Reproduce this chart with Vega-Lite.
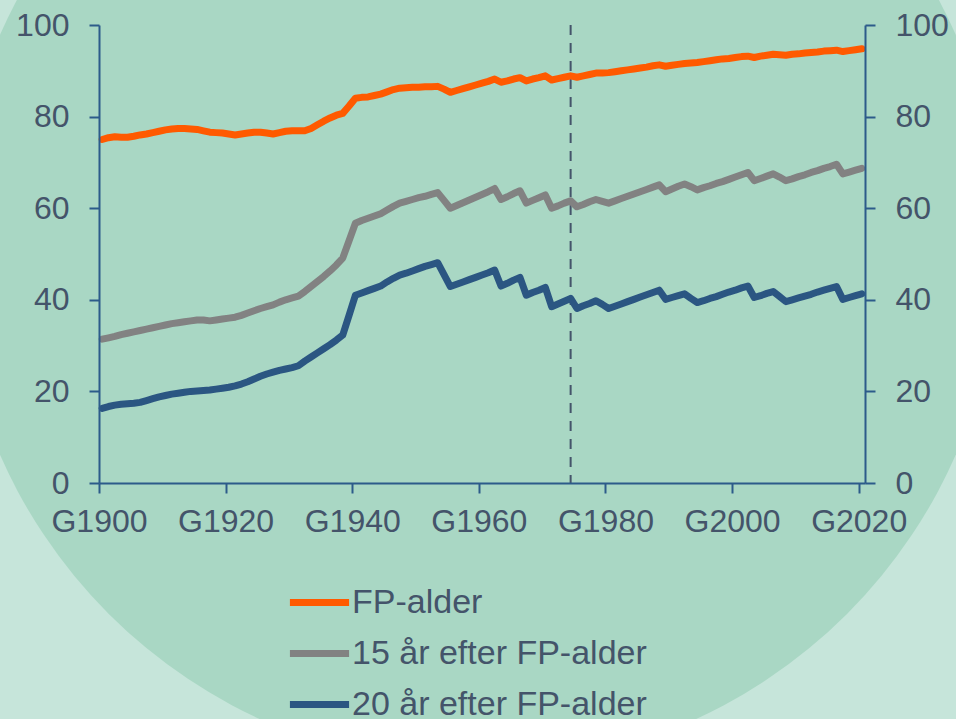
{
  "$schema": "https://vega.github.io/schema/vega-lite/v6.json",
  "autosize": {"type": "none"},
  "padding": {"left": 99, "top": 25, "right": 91, "bottom": 236},
  "width": 766,
  "height": 458,
  "background": "#c6e5da",
  "config": {
    "view": {"stroke": null},
    "axis": {
      "domainColor": "#2c5b8a", "domainWidth": 2, "tickColor": "#2c5b8a", "tickWidth": 2, "tickSize": 10,
      "labelFont": "Liberation Sans", "labelFontSize": 32, "labelColor": "#44546a", "grid": false, "title": null, "zindex": 1
    }
  },
  "datasets": {
    "circle": [{"year": 1959.35, "value": 52}],
    "cutoff": [{"year": 1974}],
    "series": [
      {"year":1900,"series":"FP-alder","value":75.0},{"year":1901,"series":"FP-alder","value":75.4},{"year":1902,"series":"FP-alder","value":75.6},{"year":1903,"series":"FP-alder","value":75.5},{"year":1904,"series":"FP-alder","value":75.5},{"year":1905,"series":"FP-alder","value":75.7},{"year":1906,"series":"FP-alder","value":76.0},{"year":1907,"series":"FP-alder","value":76.2},{"year":1908,"series":"FP-alder","value":76.5},{"year":1909,"series":"FP-alder","value":76.8},
      {"year":1910,"series":"FP-alder","value":77.1},{"year":1911,"series":"FP-alder","value":77.3},{"year":1912,"series":"FP-alder","value":77.4},{"year":1913,"series":"FP-alder","value":77.4},{"year":1914,"series":"FP-alder","value":77.3},{"year":1915,"series":"FP-alder","value":77.2},{"year":1916,"series":"FP-alder","value":76.9},{"year":1917,"series":"FP-alder","value":76.6},{"year":1918,"series":"FP-alder","value":76.5},{"year":1919,"series":"FP-alder","value":76.4},
      {"year":1920,"series":"FP-alder","value":76.2},{"year":1921,"series":"FP-alder","value":76.0},{"year":1922,"series":"FP-alder","value":76.2},{"year":1923,"series":"FP-alder","value":76.4},{"year":1924,"series":"FP-alder","value":76.6},{"year":1925,"series":"FP-alder","value":76.6},{"year":1926,"series":"FP-alder","value":76.4},{"year":1927,"series":"FP-alder","value":76.2},{"year":1928,"series":"FP-alder","value":76.5},{"year":1929,"series":"FP-alder","value":76.8},
      {"year":1930,"series":"FP-alder","value":76.9},{"year":1931,"series":"FP-alder","value":76.9},{"year":1932,"series":"FP-alder","value":76.9},{"year":1933,"series":"FP-alder","value":77.4},{"year":1934,"series":"FP-alder","value":78.2},{"year":1935,"series":"FP-alder","value":79.0},{"year":1936,"series":"FP-alder","value":79.7},{"year":1937,"series":"FP-alder","value":80.3},{"year":1938,"series":"FP-alder","value":80.7},{"year":1939,"series":"FP-alder","value":82.3},
      {"year":1940,"series":"FP-alder","value":84.0},{"year":1941,"series":"FP-alder","value":84.2},{"year":1942,"series":"FP-alder","value":84.3},{"year":1943,"series":"FP-alder","value":84.6},{"year":1944,"series":"FP-alder","value":84.9},{"year":1945,"series":"FP-alder","value":85.4},{"year":1946,"series":"FP-alder","value":85.9},{"year":1947,"series":"FP-alder","value":86.2},{"year":1948,"series":"FP-alder","value":86.3},{"year":1949,"series":"FP-alder","value":86.4},
      {"year":1950,"series":"FP-alder","value":86.4},{"year":1951,"series":"FP-alder","value":86.5},{"year":1952,"series":"FP-alder","value":86.5},{"year":1953,"series":"FP-alder","value":86.6},{"year":1954,"series":"FP-alder","value":86.0},{"year":1955,"series":"FP-alder","value":85.3},{"year":1956,"series":"FP-alder","value":85.7},{"year":1957,"series":"FP-alder","value":86.1},{"year":1958,"series":"FP-alder","value":86.5},{"year":1959,"series":"FP-alder","value":86.9},
      {"year":1960,"series":"FP-alder","value":87.3},{"year":1961,"series":"FP-alder","value":87.7},{"year":1962,"series":"FP-alder","value":88.2},{"year":1963,"series":"FP-alder","value":87.5},{"year":1964,"series":"FP-alder","value":87.8},{"year":1965,"series":"FP-alder","value":88.2},{"year":1966,"series":"FP-alder","value":88.5},{"year":1967,"series":"FP-alder","value":87.8},{"year":1968,"series":"FP-alder","value":88.2},{"year":1969,"series":"FP-alder","value":88.5},
      {"year":1970,"series":"FP-alder","value":88.9},{"year":1971,"series":"FP-alder","value":88.0},{"year":1972,"series":"FP-alder","value":88.3},{"year":1973,"series":"FP-alder","value":88.6},{"year":1974,"series":"FP-alder","value":88.9},{"year":1975,"series":"FP-alder","value":88.6},{"year":1976,"series":"FP-alder","value":88.9},{"year":1977,"series":"FP-alder","value":89.2},{"year":1978,"series":"FP-alder","value":89.5},{"year":1979,"series":"FP-alder","value":89.5},
      {"year":1980,"series":"FP-alder","value":89.6},{"year":1981,"series":"FP-alder","value":89.8},{"year":1982,"series":"FP-alder","value":90.0},{"year":1983,"series":"FP-alder","value":90.2},{"year":1984,"series":"FP-alder","value":90.4},{"year":1985,"series":"FP-alder","value":90.6},{"year":1986,"series":"FP-alder","value":90.8},{"year":1987,"series":"FP-alder","value":91.1},{"year":1988,"series":"FP-alder","value":91.3},{"year":1989,"series":"FP-alder","value":91.0},
      {"year":1990,"series":"FP-alder","value":91.2},{"year":1991,"series":"FP-alder","value":91.4},{"year":1992,"series":"FP-alder","value":91.6},{"year":1993,"series":"FP-alder","value":91.7},{"year":1994,"series":"FP-alder","value":91.8},{"year":1995,"series":"FP-alder","value":92.0},{"year":1996,"series":"FP-alder","value":92.2},{"year":1997,"series":"FP-alder","value":92.4},{"year":1998,"series":"FP-alder","value":92.6},{"year":1999,"series":"FP-alder","value":92.7},
      {"year":2000,"series":"FP-alder","value":92.9},{"year":2001,"series":"FP-alder","value":93.1},{"year":2002,"series":"FP-alder","value":93.2},{"year":2003,"series":"FP-alder","value":92.9},{"year":2004,"series":"FP-alder","value":93.2},{"year":2005,"series":"FP-alder","value":93.4},{"year":2006,"series":"FP-alder","value":93.6},{"year":2007,"series":"FP-alder","value":93.5},{"year":2008,"series":"FP-alder","value":93.4},{"year":2009,"series":"FP-alder","value":93.6},
      {"year":2010,"series":"FP-alder","value":93.7},{"year":2011,"series":"FP-alder","value":93.9},{"year":2012,"series":"FP-alder","value":94.0},{"year":2013,"series":"FP-alder","value":94.1},{"year":2014,"series":"FP-alder","value":94.3},{"year":2015,"series":"FP-alder","value":94.4},{"year":2016,"series":"FP-alder","value":94.5},{"year":2017,"series":"FP-alder","value":94.2},{"year":2018,"series":"FP-alder","value":94.4},{"year":2019,"series":"FP-alder","value":94.6},
      {"year":2020,"series":"FP-alder","value":94.8},

      {"year":1900,"series":"15 år efter FP-alder","value":31.4},{"year":1901,"series":"15 år efter FP-alder","value":31.7},{"year":1902,"series":"15 år efter FP-alder","value":32.0},{"year":1903,"series":"15 år efter FP-alder","value":32.4},{"year":1904,"series":"15 år efter FP-alder","value":32.7},{"year":1905,"series":"15 år efter FP-alder","value":33.0},{"year":1906,"series":"15 år efter FP-alder","value":33.3},{"year":1907,"series":"15 år efter FP-alder","value":33.6},{"year":1908,"series":"15 år efter FP-alder","value":33.9},{"year":1909,"series":"15 år efter FP-alder","value":34.2},
      {"year":1910,"series":"15 år efter FP-alder","value":34.5},{"year":1911,"series":"15 år efter FP-alder","value":34.8},{"year":1912,"series":"15 år efter FP-alder","value":35.0},{"year":1913,"series":"15 år efter FP-alder","value":35.2},{"year":1914,"series":"15 år efter FP-alder","value":35.4},{"year":1915,"series":"15 år efter FP-alder","value":35.6},{"year":1916,"series":"15 år efter FP-alder","value":35.6},{"year":1917,"series":"15 år efter FP-alder","value":35.4},{"year":1918,"series":"15 år efter FP-alder","value":35.6},{"year":1919,"series":"15 år efter FP-alder","value":35.8},
      {"year":1920,"series":"15 år efter FP-alder","value":36.0},{"year":1921,"series":"15 år efter FP-alder","value":36.2},{"year":1922,"series":"15 år efter FP-alder","value":36.6},{"year":1923,"series":"15 år efter FP-alder","value":37.1},{"year":1924,"series":"15 år efter FP-alder","value":37.6},{"year":1925,"series":"15 år efter FP-alder","value":38.1},{"year":1926,"series":"15 år efter FP-alder","value":38.5},{"year":1927,"series":"15 år efter FP-alder","value":38.9},{"year":1928,"series":"15 år efter FP-alder","value":39.5},{"year":1929,"series":"15 år efter FP-alder","value":40.0},
      {"year":1930,"series":"15 år efter FP-alder","value":40.4},{"year":1931,"series":"15 år efter FP-alder","value":40.8},{"year":1932,"series":"15 år efter FP-alder","value":41.8},{"year":1933,"series":"15 år efter FP-alder","value":42.9},{"year":1934,"series":"15 år efter FP-alder","value":44.0},{"year":1935,"series":"15 år efter FP-alder","value":45.1},{"year":1936,"series":"15 år efter FP-alder","value":46.3},{"year":1937,"series":"15 år efter FP-alder","value":47.6},{"year":1938,"series":"15 år efter FP-alder","value":49.1},{"year":1939,"series":"15 år efter FP-alder","value":52.9},
      {"year":1940,"series":"15 år efter FP-alder","value":56.7},{"year":1941,"series":"15 år efter FP-alder","value":57.3},{"year":1942,"series":"15 år efter FP-alder","value":57.8},{"year":1943,"series":"15 år efter FP-alder","value":58.3},{"year":1944,"series":"15 år efter FP-alder","value":58.8},{"year":1945,"series":"15 år efter FP-alder","value":59.6},{"year":1946,"series":"15 år efter FP-alder","value":60.4},{"year":1947,"series":"15 år efter FP-alder","value":61.1},{"year":1948,"series":"15 år efter FP-alder","value":61.5},{"year":1949,"series":"15 år efter FP-alder","value":61.9},
      {"year":1950,"series":"15 år efter FP-alder","value":62.3},{"year":1951,"series":"15 år efter FP-alder","value":62.6},{"year":1952,"series":"15 år efter FP-alder","value":63.0},{"year":1953,"series":"15 år efter FP-alder","value":63.4},{"year":1954,"series":"15 år efter FP-alder","value":61.7},{"year":1955,"series":"15 år efter FP-alder","value":60.0},{"year":1956,"series":"15 år efter FP-alder","value":60.6},{"year":1957,"series":"15 år efter FP-alder","value":61.2},{"year":1958,"series":"15 år efter FP-alder","value":61.8},{"year":1959,"series":"15 år efter FP-alder","value":62.4},
      {"year":1960,"series":"15 år efter FP-alder","value":63.0},{"year":1961,"series":"15 år efter FP-alder","value":63.6},{"year":1962,"series":"15 år efter FP-alder","value":64.3},{"year":1963,"series":"15 år efter FP-alder","value":61.9},{"year":1964,"series":"15 år efter FP-alder","value":62.5},{"year":1965,"series":"15 år efter FP-alder","value":63.2},{"year":1966,"series":"15 år efter FP-alder","value":63.8},{"year":1967,"series":"15 år efter FP-alder","value":61.1},{"year":1968,"series":"15 år efter FP-alder","value":61.7},{"year":1969,"series":"15 år efter FP-alder","value":62.3},
      {"year":1970,"series":"15 år efter FP-alder","value":62.9},{"year":1971,"series":"15 år efter FP-alder","value":60.0},{"year":1972,"series":"15 år efter FP-alder","value":60.5},{"year":1973,"series":"15 år efter FP-alder","value":61.1},{"year":1974,"series":"15 år efter FP-alder","value":61.6},{"year":1975,"series":"15 år efter FP-alder","value":60.3},{"year":1976,"series":"15 år efter FP-alder","value":60.8},{"year":1977,"series":"15 år efter FP-alder","value":61.4},{"year":1978,"series":"15 år efter FP-alder","value":61.9},{"year":1979,"series":"15 år efter FP-alder","value":61.5},
      {"year":1980,"series":"15 år efter FP-alder","value":61.1},{"year":1981,"series":"15 år efter FP-alder","value":61.6},{"year":1982,"series":"15 år efter FP-alder","value":62.1},{"year":1983,"series":"15 år efter FP-alder","value":62.6},{"year":1984,"series":"15 år efter FP-alder","value":63.1},{"year":1985,"series":"15 år efter FP-alder","value":63.6},{"year":1986,"series":"15 år efter FP-alder","value":64.1},{"year":1987,"series":"15 år efter FP-alder","value":64.6},{"year":1988,"series":"15 år efter FP-alder","value":65.1},{"year":1989,"series":"15 år efter FP-alder","value":63.6},
      {"year":1990,"series":"15 år efter FP-alder","value":64.2},{"year":1991,"series":"15 år efter FP-alder","value":64.8},{"year":1992,"series":"15 år efter FP-alder","value":65.3},{"year":1993,"series":"15 år efter FP-alder","value":64.7},{"year":1994,"series":"15 år efter FP-alder","value":64.0},{"year":1995,"series":"15 år efter FP-alder","value":64.5},{"year":1996,"series":"15 år efter FP-alder","value":64.9},{"year":1997,"series":"15 år efter FP-alder","value":65.4},{"year":1998,"series":"15 år efter FP-alder","value":65.8},{"year":1999,"series":"15 år efter FP-alder","value":66.3},
      {"year":2000,"series":"15 år efter FP-alder","value":66.8},{"year":2001,"series":"15 år efter FP-alder","value":67.3},{"year":2002,"series":"15 år efter FP-alder","value":67.8},{"year":2003,"series":"15 år efter FP-alder","value":66.0},{"year":2004,"series":"15 år efter FP-alder","value":66.5},{"year":2005,"series":"15 år efter FP-alder","value":67.0},{"year":2006,"series":"15 år efter FP-alder","value":67.5},{"year":2007,"series":"15 år efter FP-alder","value":66.8},{"year":2008,"series":"15 år efter FP-alder","value":66.0},{"year":2009,"series":"15 år efter FP-alder","value":66.4},
      {"year":2010,"series":"15 år efter FP-alder","value":66.9},{"year":2011,"series":"15 år efter FP-alder","value":67.3},{"year":2012,"series":"15 år efter FP-alder","value":67.8},{"year":2013,"series":"15 år efter FP-alder","value":68.2},{"year":2014,"series":"15 år efter FP-alder","value":68.7},{"year":2015,"series":"15 år efter FP-alder","value":69.1},{"year":2016,"series":"15 år efter FP-alder","value":69.6},{"year":2017,"series":"15 år efter FP-alder","value":67.5},{"year":2018,"series":"15 år efter FP-alder","value":67.9},{"year":2019,"series":"15 år efter FP-alder","value":68.3},
      {"year":2020,"series":"15 år efter FP-alder","value":68.7},

      {"year":1900,"series":"20 år efter FP-alder","value":16.3},{"year":1901,"series":"20 år efter FP-alder","value":16.7},{"year":1902,"series":"20 år efter FP-alder","value":17.0},{"year":1903,"series":"20 år efter FP-alder","value":17.2},{"year":1904,"series":"20 år efter FP-alder","value":17.3},{"year":1905,"series":"20 år efter FP-alder","value":17.4},{"year":1906,"series":"20 år efter FP-alder","value":17.6},{"year":1907,"series":"20 år efter FP-alder","value":18.0},{"year":1908,"series":"20 år efter FP-alder","value":18.4},{"year":1909,"series":"20 år efter FP-alder","value":18.8},
      {"year":1910,"series":"20 år efter FP-alder","value":19.1},{"year":1911,"series":"20 år efter FP-alder","value":19.4},{"year":1912,"series":"20 år efter FP-alder","value":19.6},{"year":1913,"series":"20 år efter FP-alder","value":19.8},{"year":1914,"series":"20 år efter FP-alder","value":20.0},{"year":1915,"series":"20 år efter FP-alder","value":20.1},{"year":1916,"series":"20 år efter FP-alder","value":20.2},{"year":1917,"series":"20 år efter FP-alder","value":20.3},{"year":1918,"series":"20 år efter FP-alder","value":20.5},{"year":1919,"series":"20 år efter FP-alder","value":20.7},
      {"year":1920,"series":"20 år efter FP-alder","value":20.9},{"year":1921,"series":"20 år efter FP-alder","value":21.2},{"year":1922,"series":"20 år efter FP-alder","value":21.6},{"year":1923,"series":"20 år efter FP-alder","value":22.1},{"year":1924,"series":"20 år efter FP-alder","value":22.7},{"year":1925,"series":"20 år efter FP-alder","value":23.3},{"year":1926,"series":"20 år efter FP-alder","value":23.8},{"year":1927,"series":"20 år efter FP-alder","value":24.2},{"year":1928,"series":"20 år efter FP-alder","value":24.6},{"year":1929,"series":"20 år efter FP-alder","value":24.9},
      {"year":1930,"series":"20 år efter FP-alder","value":25.2},{"year":1931,"series":"20 år efter FP-alder","value":25.6},{"year":1932,"series":"20 år efter FP-alder","value":26.6},{"year":1933,"series":"20 år efter FP-alder","value":27.5},{"year":1934,"series":"20 år efter FP-alder","value":28.4},{"year":1935,"series":"20 år efter FP-alder","value":29.3},{"year":1936,"series":"20 år efter FP-alder","value":30.2},{"year":1937,"series":"20 år efter FP-alder","value":31.2},{"year":1938,"series":"20 år efter FP-alder","value":32.3},{"year":1939,"series":"20 år efter FP-alder","value":36.6},
      {"year":1940,"series":"20 år efter FP-alder","value":41.0},{"year":1941,"series":"20 år efter FP-alder","value":41.5},{"year":1942,"series":"20 år efter FP-alder","value":42.0},{"year":1943,"series":"20 år efter FP-alder","value":42.5},{"year":1944,"series":"20 år efter FP-alder","value":43.0},{"year":1945,"series":"20 år efter FP-alder","value":43.9},{"year":1946,"series":"20 år efter FP-alder","value":44.7},{"year":1947,"series":"20 år efter FP-alder","value":45.4},{"year":1948,"series":"20 år efter FP-alder","value":45.8},{"year":1949,"series":"20 år efter FP-alder","value":46.3},
      {"year":1950,"series":"20 år efter FP-alder","value":46.8},{"year":1951,"series":"20 år efter FP-alder","value":47.3},{"year":1952,"series":"20 år efter FP-alder","value":47.7},{"year":1953,"series":"20 år efter FP-alder","value":48.1},{"year":1954,"series":"20 år efter FP-alder","value":45.5},{"year":1955,"series":"20 år efter FP-alder","value":42.9},{"year":1956,"series":"20 år efter FP-alder","value":43.4},{"year":1957,"series":"20 år efter FP-alder","value":43.9},{"year":1958,"series":"20 år efter FP-alder","value":44.4},{"year":1959,"series":"20 år efter FP-alder","value":44.9},
      {"year":1960,"series":"20 år efter FP-alder","value":45.4},{"year":1961,"series":"20 år efter FP-alder","value":45.9},{"year":1962,"series":"20 år efter FP-alder","value":46.5},{"year":1963,"series":"20 år efter FP-alder","value":43.0},{"year":1964,"series":"20 år efter FP-alder","value":43.6},{"year":1965,"series":"20 år efter FP-alder","value":44.3},{"year":1966,"series":"20 år efter FP-alder","value":44.9},{"year":1967,"series":"20 år efter FP-alder","value":41.0},{"year":1968,"series":"20 år efter FP-alder","value":41.6},{"year":1969,"series":"20 år efter FP-alder","value":42.1},
      {"year":1970,"series":"20 år efter FP-alder","value":42.7},{"year":1971,"series":"20 år efter FP-alder","value":38.5},{"year":1972,"series":"20 år efter FP-alder","value":39.1},{"year":1973,"series":"20 år efter FP-alder","value":39.7},{"year":1974,"series":"20 år efter FP-alder","value":40.3},{"year":1975,"series":"20 år efter FP-alder","value":38.1},{"year":1976,"series":"20 år efter FP-alder","value":38.7},{"year":1977,"series":"20 år efter FP-alder","value":39.2},{"year":1978,"series":"20 år efter FP-alder","value":39.8},{"year":1979,"series":"20 år efter FP-alder","value":39.0},
      {"year":1980,"series":"20 år efter FP-alder","value":38.1},{"year":1981,"series":"20 år efter FP-alder","value":38.6},{"year":1982,"series":"20 år efter FP-alder","value":39.1},{"year":1983,"series":"20 år efter FP-alder","value":39.6},{"year":1984,"series":"20 år efter FP-alder","value":40.1},{"year":1985,"series":"20 år efter FP-alder","value":40.6},{"year":1986,"series":"20 år efter FP-alder","value":41.1},{"year":1987,"series":"20 år efter FP-alder","value":41.6},{"year":1988,"series":"20 år efter FP-alder","value":42.1},{"year":1989,"series":"20 år efter FP-alder","value":40.1},
      {"year":1990,"series":"20 år efter FP-alder","value":40.5},{"year":1991,"series":"20 år efter FP-alder","value":40.9},{"year":1992,"series":"20 år efter FP-alder","value":41.3},{"year":1993,"series":"20 år efter FP-alder","value":40.3},{"year":1994,"series":"20 år efter FP-alder","value":39.4},{"year":1995,"series":"20 år efter FP-alder","value":39.8},{"year":1996,"series":"20 år efter FP-alder","value":40.3},{"year":1997,"series":"20 år efter FP-alder","value":40.7},{"year":1998,"series":"20 år efter FP-alder","value":41.2},{"year":1999,"series":"20 år efter FP-alder","value":41.7},
      {"year":2000,"series":"20 år efter FP-alder","value":42.1},{"year":2001,"series":"20 år efter FP-alder","value":42.6},{"year":2002,"series":"20 år efter FP-alder","value":43.0},{"year":2003,"series":"20 år efter FP-alder","value":40.5},{"year":2004,"series":"20 år efter FP-alder","value":40.9},{"year":2005,"series":"20 år efter FP-alder","value":41.4},{"year":2006,"series":"20 år efter FP-alder","value":41.8},{"year":2007,"series":"20 år efter FP-alder","value":40.7},{"year":2008,"series":"20 år efter FP-alder","value":39.6},{"year":2009,"series":"20 år efter FP-alder","value":40.0},
      {"year":2010,"series":"20 år efter FP-alder","value":40.4},{"year":2011,"series":"20 år efter FP-alder","value":40.8},{"year":2012,"series":"20 år efter FP-alder","value":41.2},{"year":2013,"series":"20 år efter FP-alder","value":41.7},{"year":2014,"series":"20 år efter FP-alder","value":42.1},{"year":2015,"series":"20 år efter FP-alder","value":42.5},{"year":2016,"series":"20 år efter FP-alder","value":42.9},{"year":2017,"series":"20 år efter FP-alder","value":40.1},{"year":2018,"series":"20 år efter FP-alder","value":40.5},{"year":2019,"series":"20 år efter FP-alder","value":40.9},
      {"year":2020,"series":"20 år efter FP-alder","value":41.3}
    ]
  },
  "encoding": {
    "x": {
      "field": "year", "type": "quantitative",
      "scale": {"domain": [1899.5, 2020.5], "nice": false, "zero": false},
      "axis": {
        "values": [1899.5, 1919.5, 1939.5, 1959.5, 1979.5, 1999.5, 2019.5],
        "labelExpr": "'G' + (datum.value + 0.5)",
        "labelDx": 3, "labelPadding": 13, "labelFlush": false, "labelOverlap": false, "zindex": 1, "title": null
      }
    }
  },
  "layer": [
    {
      "data": {"name": "circle"},
      "mark": {"type": "point", "shape": "circle", "filled": true, "fill": "#a9d7c4", "opacity": 1, "strokeWidth": 0, "size": 1089936},
      "encoding": {
        "y": {
          "field": "value", "type": "quantitative",
          "scale": {"domain": [0, 100], "nice": false},
          "axis": {"orient": "left", "values": [0, 20, 40, 60, 80, 100], "labelPadding": 20, "zindex": 1, "title": null}
        }
      }
    },
    {
      "data": {"name": "cutoff"},
      "mark": {"type": "rule", "stroke": "#44546a", "strokeWidth": 2, "strokeDash": [10, 8]},
      "encoding": {}
    },
    {
      "data": {"name": "series"},
      "mark": {"type": "line", "strokeWidth": 7, "strokeCap": "round", "strokeJoin": "round"},
      "encoding": {
        "y": {
          "field": "value", "type": "quantitative",
          "scale": {"domain": [0, 100], "nice": false},
          "axis": {"orient": "right", "values": [0, 20, 40, 60, 80, 100], "labelPadding": 20, "zindex": 1, "title": null}
        },
        "color": {
          "field": "series", "type": "nominal",
          "scale": {"domain": ["FP-alder", "15 år efter FP-alder", "20 år efter FP-alder"], "range": ["#ff5a00", "#828282", "#2b5682"]},
          "legend": {
            "orient": "none", "legendX": 187, "legendY": 544, "direction": "vertical", "title": null,
            "symbolType": "stroke", "symbolSize": 3500, "symbolStrokeWidth": 7,
            "labelFont": "Liberation Sans", "labelFontSize": 34, "labelColor": "#44546a", "labelOffset": -1, "labelLimit": 600,
            "rowPadding": -1, "padding": 0
          }
        }
      }
    }
  ],
  "resolve": {"scale": {"y": "independent"}}
}
